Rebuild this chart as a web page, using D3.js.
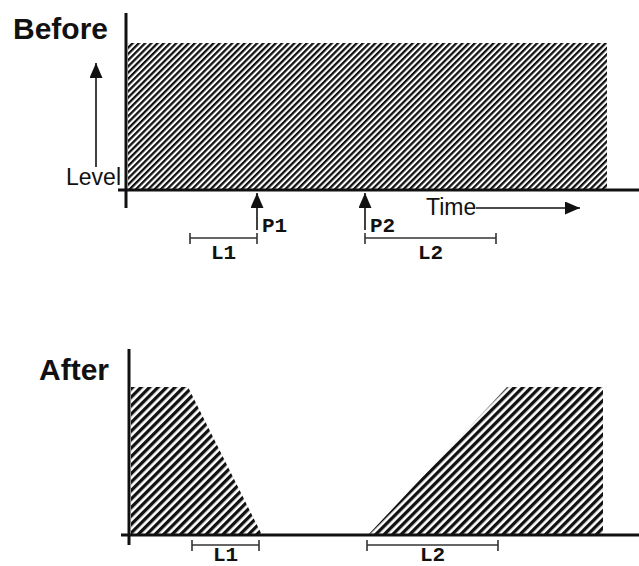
<!DOCTYPE html>
<html>
<head>
<meta charset="utf-8">
<script src="https://cdn.jsdelivr.net/npm/d3@7"></script>
<style>
  body { margin: 0; background: #fff; }
  svg { display: block; }
</style>
</head>
<body>
<svg id="chart"></svg>
<script>
// envelope points: time (units from the level axis) and level (0..1)
const beforeTime = [2, 481];
const beforeLevel = [1, 1];
const afterOutTime = [2, 59, 133];
const afterOutLevel = [1, 1, 0];
const afterInTime = [239, 378, 474];
const afterInLevel = [0, 1, 1];

// edit points and lengths
const pointNames = ["P1", "P2"];
const pointTimes = [131, 239];
const lengthNames = ["L1", "L2"];
const beforeLengths = [[64, 131], [239, 370]];
const afterLengths = [[63, 130], [238, 369]];

const W = 639, H = 566;
const svg = d3.select("#chart").attr("width", W).attr("height", H);

const defs = svg.append("defs");
function hatch(id, size, ink) {
    const p = defs.append("pattern")
        .attr("id", id)
        .attr("patternUnits", "userSpaceOnUse")
        .attr("width", size).attr("height", size)
        .attr("patternTransform", "rotate(45)");
    p.append("rect").attr("width", size).attr("height", size).attr("fill", "#fff");
    p.append("rect").attr("width", size * ink).attr("height", size).attr("fill", "#111");
}
hatch("hatchBefore", 4.4, 0.52);
hatch("hatchAfter", 6, 0.55);

function arrowMarker(id, w, l) {
    defs.append("marker")
        .attr("id", id)
        .attr("viewBox", `0 ${-w / 2} ${l} ${w}`)
        .attr("refX", l).attr("refY", 0)
        .attr("markerUnits", "userSpaceOnUse")
        .attr("markerWidth", l).attr("markerHeight", w)
        .attr("orient", "auto")
        .append("path")
        .attr("d", `M0,${-w / 2}L${l},0L0,${w / 2}Z`)
        .attr("fill", "#111");
}
arrowMarker("head", 13, 15);

const ink = "#111";
const sans = "'Liberation Sans', Arial, Helvetica, sans-serif";
const mono = "'Liberation Mono', 'Courier New', monospace";

const area = (x, y) => d3.area()
    .x(d => x(d[0]))
    .y0(y(0))
    .y1(d => y(d[1]));

// ---------- Before ----------
const xB = d3.scaleLinear().domain([0, 512]).range([126, 638]);
const yB = d3.scaleLinear().domain([0, 1]).range([190, 43]);
const gB = svg.append("g");

gB.append("path")
    .datum(d3.zip(beforeTime, beforeLevel))
    .attr("d", area(xB, yB))
    .attr("fill", "url(#hatchBefore)");

gB.append("line")
    .attr("x1", xB(0)).attr("x2", xB(0))
    .attr("y1", 13).attr("y2", 208)
    .attr("stroke", ink).attr("stroke-width", 3);
gB.append("line")
    .attr("x1", xB(-8)).attr("x2", W)
    .attr("y1", yB(0)).attr("y2", yB(0))
    .attr("stroke", ink).attr("stroke-width", 3);

gB.append("text")
    .attr("x", 13).attr("y", 39)
    .attr("font-family", sans).attr("font-weight", "bold").attr("font-size", 30)
    .attr("fill", ink)
    .text("Before");

// level arrow
gB.append("line")
    .attr("x1", 96).attr("x2", 96)
    .attr("y1", 167).attr("y2", 63)
    .attr("stroke", ink).attr("stroke-width", 1.6)
    .attr("marker-end", "url(#head)");
gB.append("text")
    .attr("x", 121).attr("y", 185)
    .attr("text-anchor", "end")
    .attr("font-family", sans).attr("font-size", 23)
    .attr("fill", ink)
    .text("Level");

// time arrow
gB.append("text")
    .attr("x", 426).attr("y", 215)
    .attr("font-family", sans).attr("font-size", 23)
    .attr("fill", ink)
    .text("Time");
gB.append("line")
    .attr("x1", 476).attr("x2", 580)
    .attr("y1", 208).attr("y2", 208)
    .attr("stroke", ink).attr("stroke-width", 1.6)
    .attr("marker-end", "url(#head)");

// edit points
pointTimes.forEach((t, i) => {
    gB.append("line")
        .attr("x1", xB(t)).attr("x2", xB(t))
        .attr("y1", 230).attr("y2", yB(0) + 3)
        .attr("stroke", ink).attr("stroke-width", 1.6)
        .attr("marker-end", "url(#head)");
    gB.append("text")
        .attr("x", xB(t) + 5).attr("y", 232)
        .attr("font-family", mono).attr("font-weight", "bold").attr("font-size", 21)
        .attr("fill", ink)
        .text(pointNames[i]);
});

function bracket(g, x, span, y, name, labelY) {
    const x0 = x(span[0]), x1 = x(span[1]);
    g.append("line").attr("x1", x0).attr("x2", x1).attr("y1", y).attr("y2", y)
        .attr("stroke", "#333").attr("stroke-width", 1.6);
    [x0, x1].forEach(xx => g.append("line")
        .attr("x1", xx).attr("x2", xx).attr("y1", y - 5).attr("y2", y + 6)
        .attr("stroke", "#333").attr("stroke-width", 1.6));
    g.append("text")
        .attr("x", (x0 + x1) / 2).attr("y", labelY)
        .attr("text-anchor", "middle")
        .attr("font-family", mono).attr("font-weight", "bold").attr("font-size", 21)
        .attr("fill", ink)
        .text(name);
}
beforeLengths.forEach((s, i) => bracket(gB, xB, s, 238, lengthNames[i], 259));

// ---------- After ----------
const xA = d3.scaleLinear().domain([0, 510]).range([129, 639]);
const yA = d3.scaleLinear().domain([0, 1]).range([535, 387]);
const gA = svg.append("g");

[d3.zip(afterOutTime, afterOutLevel), d3.zip(afterInTime, afterInLevel)].forEach(d => {
    gA.append("path")
        .datum(d)
        .attr("d", area(xA, yA))
        .attr("fill", "url(#hatchAfter)");
});

gA.append("line")
    .attr("x1", xA(0)).attr("x2", xA(0))
    .attr("y1", 349).attr("y2", 545)
    .attr("stroke", ink).attr("stroke-width", 3);
gA.append("line")
    .attr("x1", xA(-8)).attr("x2", W)
    .attr("y1", yA(0)).attr("y2", yA(0))
    .attr("stroke", ink).attr("stroke-width", 3);

gA.append("text")
    .attr("x", 39).attr("y", 380)
    .attr("font-family", sans).attr("font-weight", "bold").attr("font-size", 30)
    .attr("fill", ink)
    .text("After");

afterLengths.forEach((s, i) => bracket(gA, xA, s, 545, lengthNames[i], 561));
</script>
</body>
</html>
